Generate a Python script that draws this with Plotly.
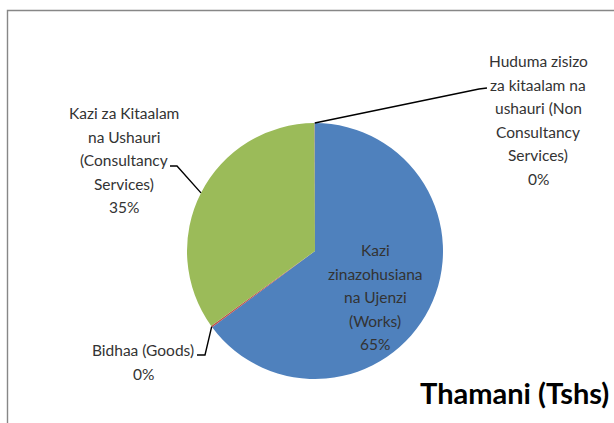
import numpy as np
import plotly.graph_objects as go

# ---- data ----
categories = [
    "Kazi zinazohusiana na Ujenzi (Works)",
    "Bidhaa (Goods)",
    "Kazi za Kitaalam na Ushauri (Consultancy Services)",
    "Huduma zisizo za kitaalam na ushauri (Non Consultancy Services)",
]
label_lines = [
    ["Kazi", "zinazohusiana", "na Ujenzi", "(Works)"],
    ["Bidhaa (Goods)"],
    ["Kazi za Kitaalam", "na Ushauri", "(Consultancy", "Services)"],
    ["Huduma zisizo", "za kitaalam na", "ushauri (Non", "Consultancy", "Services)"],
]
values = [64.85, 0.2, 34.9, 0.05]
colors = ["#4F81BD", "#C0504D", "#9BBB59", "#8064A2"]
chart_title = "Thamani (Tshs)"

# ---- layout constants ----
W, H = 614, 423
cx, cy, r = 315, 251, 128
FONT = "Lato"
TXT = "#333333"


def px(x):
    return x / W


def py(y):
    return 1 - y / H


vals = np.array(values, dtype=float)
frac = vals / vals.sum()
pcts = [f"{int(round(f * 100))}%" for f in frac]
cum = np.concatenate([[0], np.cumsum(frac)])


def pie_point(f):
    a = 2 * np.pi * f
    return cx + r * np.sin(a), cy - r * np.cos(a)


fig = go.Figure()
fig.add_trace(go.Pie(
    labels=categories,
    values=values,
    sort=False,
    direction="clockwise",
    rotation=0,
    marker=dict(colors=colors, line=dict(width=0)),
    textinfo="none",
    hoverinfo="label+percent",
    showlegend=False,
    domain=dict(x=[px(cx - r), px(cx + r)], y=[py(cy + r), py(cy - r)]),
))

# label positions (center x, first line y)
label_pos = [(375, 250), (143, 350), (124, 113), (538, 61)]
spacing = 23.6
annotations = []
for i, lines in enumerate(label_lines):
    x0, y0 = label_pos[i]
    all_lines = lines + [pcts[i]]
    for k, ln in enumerate(all_lines):
        annotations.append(dict(
            x=px(x0), y=py(y0 + k * spacing), xref="paper", yref="paper",
            text=ln, showarrow=False, xanchor="center", yanchor="middle",
            font=dict(family=FONT, size=15.5, color=TXT),
        ))

annotations.append(dict(
    x=px(611), y=py(392), xref="paper", yref="paper", text=f"<b>{chart_title}</b>",
    showarrow=False, xanchor="right", yanchor="middle",
    font=dict(family=FONT, size=29, color="#000000"),
))

shapes = []
# border (top & left visible, rest cropped)
shapes.append(dict(type="rect", xref="paper", yref="paper",
                   x0=px(7.5), y0=py(10.5), x1=1.2, y1=-0.2,
                   line=dict(color="#878787", width=1.4), fillcolor="rgba(0,0,0,0)"))

# leader lines
pn = pie_point(cum[4] - 0.0003)
pg = pie_point(cum[2] - 0.001)
pc = pie_point((cum[2] + cum[3]) / 2)
leaders = [
    [(487, 88), (479, 89), pn],
    [(197, 355), (205, 355), pg],
    [(170, 166), (177, 166), pc],
]
for pts in leaders:
    d = "M " + " L ".join(f"{px(x):.5f},{py(y):.5f}" for x, y in pts)
    shapes.append(dict(type="path", xref="paper", yref="paper", path=d,
                       line=dict(color="#000000", width=1.4)))

fig.update_layout(
    width=W, height=H,
    margin=dict(l=0, r=0, t=0, b=0),
    paper_bgcolor="white", plot_bgcolor="white",
    annotations=annotations, shapes=shapes,
    showlegend=False,
)

fig.write_html(
    "out.html",
    config={"displayModeBar": False},
    post_script="document.body.style.margin='0';document.body.style.overflow='hidden';",
)
